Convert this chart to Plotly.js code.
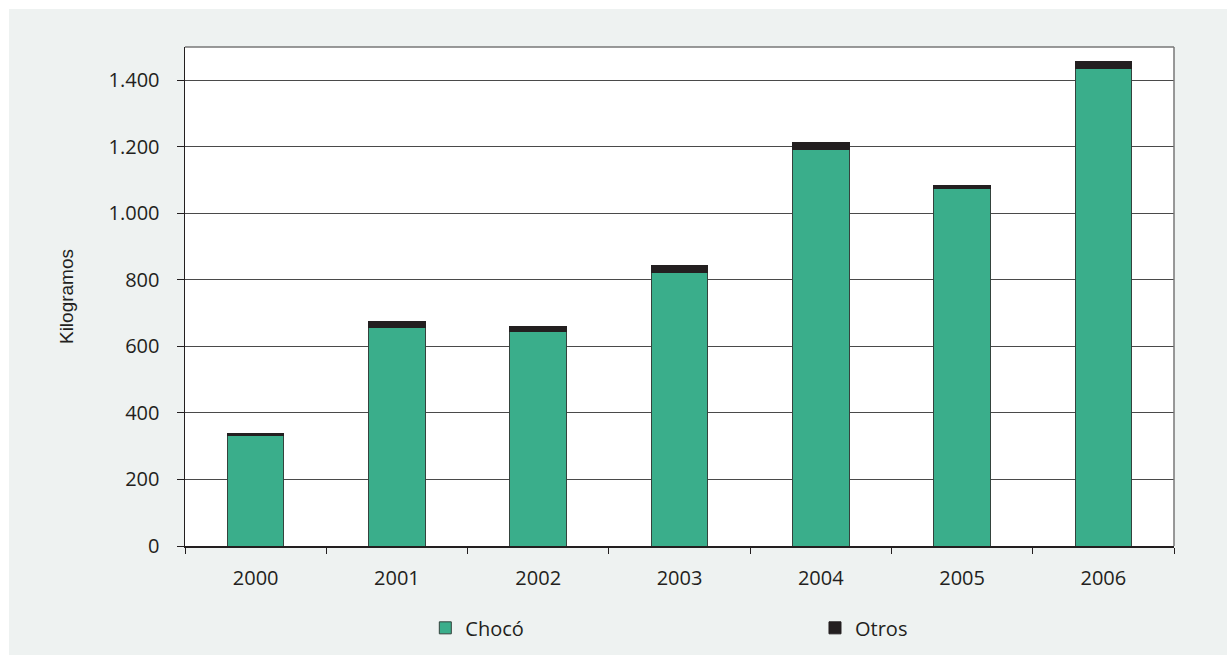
<!DOCTYPE html>
<html>
<head>
<meta charset="utf-8">
<script src="https://cdn.plot.ly/plotly-3.0.1.min.js"></script>
<style>
  html, body { margin: 0; padding: 0; background: #ffffff; overflow: hidden; }
  #chart { position: absolute; left: 9px; top: 9px; width: 1218px; height: 646px; }
</style>
</head>
<body>
<div id="chart"></div>
<script>
const years = ['2000', '2001', '2002', '2003', '2004', '2005', '2006'];
const choco = [331, 658, 646, 821, 1192, 1076, 1435];
const otros = [7, 16, 15, 21, 20, 9, 21];
const yTicks = [0, 200, 400, 600, 800, 1000, 1200, 1400];
const yTickLabels = ['0', '200', '400', '600', '800', '1.000', '1.200', '1.400'];

const tickFont = { family: 'Open Sans, Noto Sans, sans-serif', size: 20, color: '#231f20' };
const legendFont = { family: 'Open Sans, Noto Sans, sans-serif', size: 20, color: '#231f20' };

const traces = [
  {
    type: 'bar', name: 'Chocó', x: years, y: choco, legend: 'legend',
    marker: { color: '#3aae8b', line: { color: '#34433d', width: 1 } }
  },
  {
    type: 'bar', name: 'Otros', x: years, y: otros, legend: 'legend2',
    marker: { color: '#231f20', line: { color: '#231f20', width: 1 } }
  }
];

const layout = {
  width: 1218, height: 646,
  paper_bgcolor: '#eef2f1',
  plot_bgcolor: '#ffffff',
  margin: { l: 176, r: 53, t: 38, b: 109, autoexpand: false },
  barmode: 'stack',
  bargap: 0.6,
  showlegend: true,
  legend: {
    orientation: 'h', x: 0.243, xanchor: 'left', y: -0.164, yanchor: 'middle',
    font: legendFont, bgcolor: 'rgba(0,0,0,0)'
  },
  legend2: {
    orientation: 'h', x: 0.637, xanchor: 'left', y: -0.164, yanchor: 'middle',
    font: legendFont, bgcolor: 'rgba(0,0,0,0)'
  },
  xaxis: {
    type: 'category',
    tickfont: tickFont,
    ticks: 'outside', tickson: 'boundaries', ticklen: 6, tickcolor: '#231f20', tickwidth: 1,
    ticklabelstandoff: 13,
    showline: true, linecolor: '#231f20', linewidth: 1.5,
    mirror: false, showgrid: false, zeroline: false
  },
  yaxis: {
    range: [0, 1500],
    tickvals: yTicks, ticktext: yTickLabels,
    tickfont: tickFont,
    ticks: 'outside', ticklen: 7, tickcolor: '#231f20', tickwidth: 1,
    ticklabelstandoff: 13,
    showline: true, linecolor: '#231f20', linewidth: 1.5,
    showgrid: true, gridcolor: '#4a4a4a', gridwidth: 1,
    zeroline: false,
    title: { text: 'Kilogramos', standoff: 30,
      font: { family: 'Liberation Sans Narrow, Arial Narrow, sans-serif', size: 19, color: '#231f20' } }
  },
  shapes: [
    { type: 'line', xref: 'paper', yref: 'paper', x0: 0, x1: 1, y0: 1, y1: 1,
      line: { color: '#777777', width: 1.5 } },
    { type: 'line', xref: 'paper', yref: 'paper', x0: 1, x1: 1, y0: 0, y1: 1,
      line: { color: '#777777', width: 1.5 } }
  ]
};

Plotly.newPlot('chart', traces, layout, { displayModeBar: false, staticPlot: true });
</script>
</body>
</html>
